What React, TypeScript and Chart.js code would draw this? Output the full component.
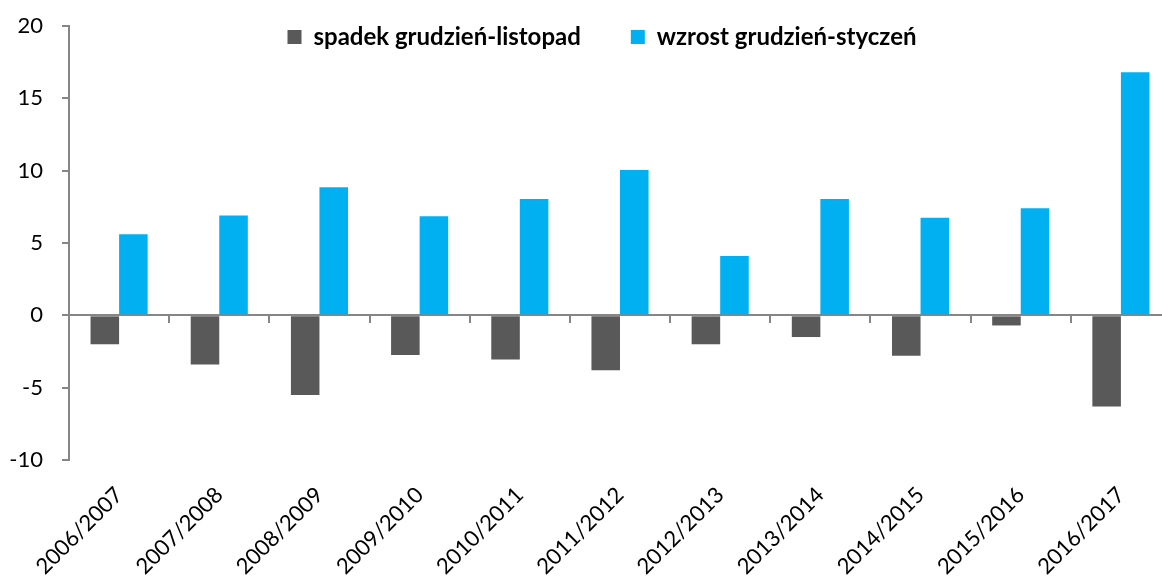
import React, { useEffect, useRef } from "react";
import { Chart, registerables } from "chart.js";

Chart.register(...registerables);

const categories = [
  "2006/2007", "2007/2008", "2008/2009", "2009/2010", "2010/2011", "2011/2012",
  "2012/2013", "2013/2014", "2014/2015", "2015/2016", "2016/2017",
];
const spadekValues = [-2.0, -3.4, -5.5, -2.75, -3.05, -3.8, -2.0, -1.5, -2.8, -0.7, -6.3];
const wzrostValues = [5.6, 6.9, 8.85, 6.85, 8.05, 10.05, 4.1, 8.05, 6.75, 7.4, 16.8];
const seriesNames = ["spadek grudzień-listopad", "wzrost grudzień-styczeń"];
const yMin = -10;
const yMax = 20;
const yStep = 5;

const legendMover = {
  id: "legendMover",
  afterLayout(chart: any) {
    const lg = chart.legend;
    if (!lg) return;
    const targetTop = -25;
    const h = 100;
    lg.top = targetTop;
    lg.bottom = targetTop + h;
    lg.height = h;
    const cx = 602;
    const dx = cx - (lg.left + lg.right) / 2;
    lg.left += dx;
    lg.right += dx;
  },
};

export default function App() {
  const ref = useRef<HTMLCanvasElement | null>(null);
  useEffect(() => {
    if (!ref.current) return;
    const axisColor = "#868686";
    const tickFont = { family: "Lato", size: 22 };
    const chart = new Chart(ref.current, {
      type: "bar",
      data: {
        labels: categories,
        datasets: [
          {
            label: seriesNames[0],
            data: spadekValues,
            backgroundColor: "#595959",
            borderWidth: 0,
            categoryPercentage: 0.57,
            barPercentage: 1,
          },
          {
            label: seriesNames[1],
            data: wzrostValues,
            backgroundColor: "#00B0F0",
            borderWidth: 0,
            categoryPercentage: 0.57,
            barPercentage: 1,
          },
        ],
      },
      options: {
        responsive: false,
        animation: false,
        devicePixelRatio: 1,
        layout: { padding: { top: 25, right: 9, left: 0, bottom: 0 } },
        plugins: {
          legend: {
            position: "top",
            maxHeight: 1,
            labels: {
              color: "#000",
              font: { family: "Lato", size: 24, weight: "bold" },
              boxWidth: 14,
              boxHeight: 14,
              padding: 50,
            },
          },
          tooltip: { enabled: false },
        },
        scales: {
          x: {
            type: "category",
            position: { y: 0 },
            offset: true,
            grid: {
              display: true,
              offset: true,
              drawOnChartArea: false,
              drawTicks: true,
              tickLength: 7,
              color: axisColor,
              lineWidth: 2,
            },
            border: { display: true, color: axisColor, width: 2 },
            ticks: { display: false },
          },
          x2: {
            type: "category",
            position: "bottom",
            offset: true,
            grid: { display: false, drawTicks: false },
            border: { display: false },
            ticks: {
              color: "#000",
              font: tickFont,
              maxRotation: 45,
              minRotation: 45,
              autoSkip: false,
              padding: 22,
              labelOffset: 0,
            },
            afterFit(scale: any) {
              scale.height = 119;
            },
          },
          y: {
            min: yMin,
            max: yMax,
            grid: {
              display: true,
              drawOnChartArea: false,
              drawTicks: true,
              tickLength: 7,
              color: axisColor,
              lineWidth: 2,
            },
            border: { display: true, color: axisColor, width: 2 },
            ticks: {
              stepSize: yStep,
              color: "#000",
              font: tickFont,
              padding: 19,
            },
            afterFit(scale: any) {
              scale.width = 69;
              scale.paddingTop = 0;
            },
          },
        },
      },
      plugins: [legendMover],
    } as any);
    return () => chart.destroy();
  }, []);

  return (
    <div
      style={{
        position: "fixed",
        left: 0,
        top: 0,
        width: 1162,
        height: 579,
        overflow: "hidden",
        background: "#fff",
      }}
    >
      <canvas ref={ref} width={1180} height={579} style={{ width: 1180, height: 579, display: "block" }} />
    </div>
  );
}
